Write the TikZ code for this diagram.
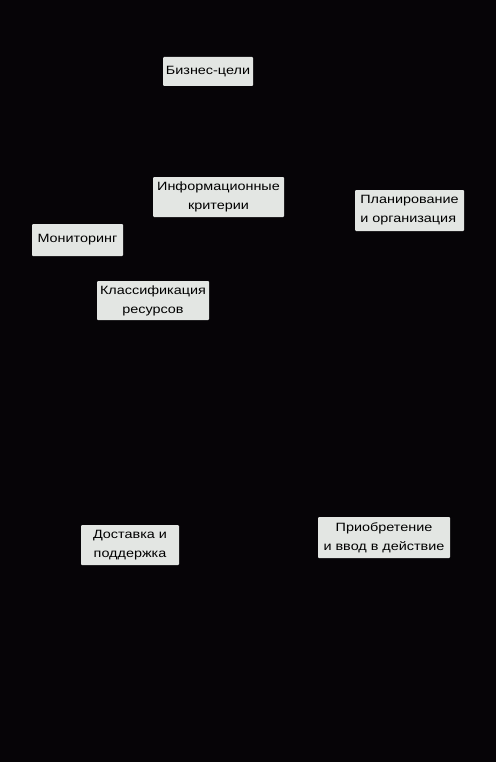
\documentclass[tikz,border=0pt]{standalone}
\usepackage{fontspec}
\setmainfont[FakeStretch=1.2]{Liberation Sans}
\usepackage{xcolor}
\definecolor{bgblack}{HTML}{060407}
\definecolor{boxgray}{HTML}{E3E6E3}
\tikzset{
    box/.style={fill=boxgray, rounded corners=1pt, inner sep=0pt, align=center,
        font=\fontsize{12}{19}\selectfont, text=black}
}

\begin{document}
\begin{tikzpicture}[x=1pt, y=-1pt]
    % Draw the background
    \fill[bgblack] (0,0) rectangle (496,762);
    \useasboundingbox (0,0) rectangle (496,762);

    % Draw the boxes
    \node[box, minimum width=90, minimum height=29] (goals) at (208,71.5) {Бизнес-цели};
    \node[box, minimum width=131, minimum height=40] (criteria) at (218.5,197) {Информационные\\критерии};
    \node[box, minimum width=109, minimum height=41, align=left] (planning) at (409.5,210.5) {Планирование\\и организация};
    \node[box, minimum width=91, minimum height=32] (monitoring) at (77.5,240) {Мониторинг};
    \node[box, minimum width=112, minimum height=39] (resources) at (153,300.5) {Классификация\\ресурсов};
    \node[box, minimum width=98, minimum height=40] (delivery) at (130,545) {Доставка и\\поддержка};
    \node[box, minimum width=132, minimum height=41] (acquisition) at (384,537.5) {Приобретение\\и ввод в действие};
\end{tikzpicture}
\end{document}
